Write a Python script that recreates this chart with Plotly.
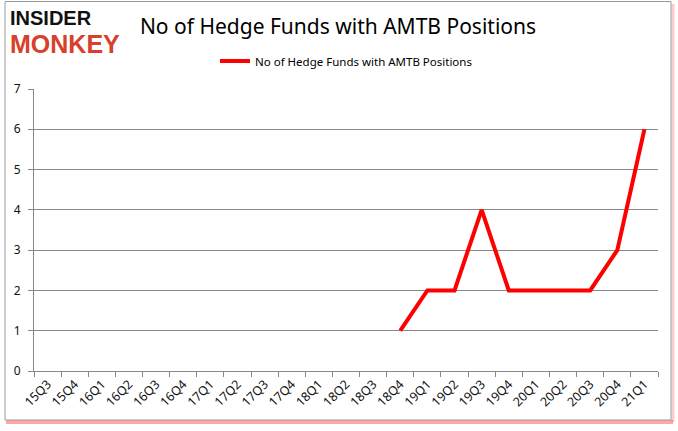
import plotly.graph_objects as go

quarters = ["15Q3", "15Q4", "16Q1", "16Q2", "16Q3", "16Q4", "17Q1", "17Q2",
            "17Q3", "17Q4", "18Q1", "18Q2", "18Q3", "18Q4", "19Q1", "19Q2",
            "19Q3", "19Q4", "20Q1", "20Q2", "20Q3", "20Q4", "21Q1"]
funds = [None, None, None, None, None, None, None, None,
         None, None, None, None, None, 1, 2, 2,
         4, 2, 2, 2, 2, 3, 6]
series_name = "No of Hedge Funds with AMTB Positions"

W, H = 678, 431
L, R, T, B = 34, 20, 89, 60
pw, ph = W - L - R, H - T - B


def px(x):
    return (x - L) / pw


def py(y):
    return (H - B - y) / ph


fig = go.Figure()
fig.add_trace(go.Scatter(x=quarters, y=funds, mode="lines", name=series_name,
                         line=dict(color="#ff0000", width=4), connectgaps=False))

# frame with red shadow
fig.add_shape(type="line", xref="paper", yref="paper", x0=px(6), x1=px(673), y0=py(422), y1=py(422),
              line=dict(color="rgba(255,0,0,0.35)", width=4))
fig.add_shape(type="line", xref="paper", yref="paper", x0=px(673), x1=px(673), y0=py(4), y1=py(422),
              line=dict(color="rgba(255,0,0,0.2)", width=3))
fig.add_shape(type="rect", xref="paper", yref="paper", x0=px(5), x1=px(671), y0=py(1.5), y1=py(420),
              line=dict(color="#999999", width=1))

fig.add_annotation(text="<b>INSIDER</b>", xref="paper", yref="paper", x=px(8), y=py(18),
                   xanchor="left", yanchor="middle", showarrow=False,
                   font=dict(family="Liberation Sans", size=20, color="#111111"))
fig.add_annotation(text="<b>MONKEY</b>", xref="paper", yref="paper", x=px(8), y=py(44),
                   xanchor="left", yanchor="middle", showarrow=False,
                   font=dict(family="Liberation Sans", size=25, color="#d9402b"))

fig.update_layout(
    width=W, height=H,
    margin=dict(l=L, r=R, t=T, b=B, autoexpand=False),
    paper_bgcolor="white", plot_bgcolor="white",
    title=dict(text=series_name, x=338 / W, xanchor="center", y=1 - 27 / H, yanchor="middle",
               font=dict(family="Noto Sans", size=21, color="#000000")),
    showlegend=True,
    legend=dict(orientation="h", x=0.5, xanchor="center", y=py(61), yanchor="middle",
                font=dict(family="Noto Sans", size=11.5, color="#000000"), itemwidth=30),
    font=dict(family="Noto Sans", size=12, color="#000000"),
)
fig.update_xaxes(type="category", range=[-0.5, 22.5], tickson="boundaries", ticks="outside",
                 ticklen=5, tickcolor="#888888", showline=True, linecolor="#888888", linewidth=1,
                 showgrid=False, tickangle=-45, automargin=False,
                 tickfont=dict(size=12.5, color="#111111"))
fig.update_yaxes(range=[0, 7], dtick=1, ticks="outside", ticklen=5, tickcolor="#888888",
                 showline=True, linecolor="#888888", linewidth=1, gridcolor="#888888",
                 gridwidth=1, zeroline=False, automargin=False, ticklabelstandoff=5,
                 tickfont=dict(size=12, color="#111111"))

# page body has a default 8px margin; drop it so the figure sits at the window corner
fig.write_html("out.html", config={"displayModeBar": False},
               post_script="document.body.style.margin='0';")
